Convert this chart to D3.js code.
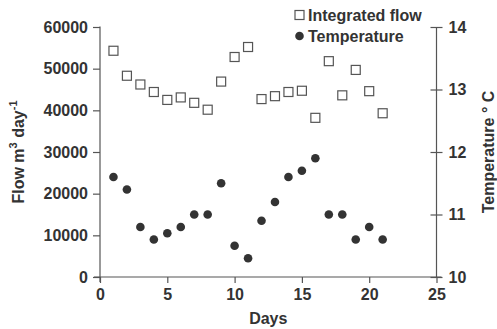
<!DOCTYPE html>
<html><head><meta charset="utf-8">
<script src="https://cdn.jsdelivr.net/npm/d3@7"></script>
<style>body{margin:0;background:#fff}svg{display:block}text{font-family:"Liberation Sans",Arial,sans-serif;fill:#333}</style>
</head><body>
<svg id="c" width="497" height="329"></svg>
<script>
const days = [1,2,3,4,5,6,7,8,9,10,11,12,13,14,15,16,17,18,19,20,21];
const flow = [54300,48300,46200,44400,42500,43100,41800,40150,46900,52800,55200,42700,43400,44400,44700,38200,51800,43600,49700,44600,39300];
const temperature = [11.6,11.4,10.8,10.6,10.7,10.8,11.0,11.0,11.5,10.5,10.3,10.9,11.2,11.6,11.7,11.9,11.0,11.0,10.6,10.8,10.6];
const xTicks = [0,5,10,15,20,25];
const flowTicks = [0,10000,20000,30000,40000,50000,60000];
const tempTicks = [10,11,12,13,14];

const svg = d3.select("#c");
const L = 100, R = 436.5, T = 27, B = 277;
const x = d3.scaleLinear().domain([0,25]).range([L,R]);
const yF = d3.scaleLinear().domain([0,60000]).range([B,T]);
const yT = d3.scaleLinear().domain([10,14]).range([B,T]);
const axisCol = "#555";

svg.append("line").attr("x1",L-6).attr("x2",R+5).attr("y1",B).attr("y2",B).attr("stroke",axisCol).attr("stroke-width",1.2);
svg.append("line").attr("x1",L).attr("x2",L).attr("y1",T-0.5).attr("y2",B+5).attr("stroke",axisCol).attr("stroke-width",1.2);
svg.append("line").attr("x1",R).attr("x2",R).attr("y1",T).attr("y2",B).attr("stroke",axisCol).attr("stroke-width",1.2);

const gx = svg.append("g").attr("transform",`translate(0,${B})`)
  .call(d3.axisBottom(x).tickValues(xTicks).tickFormat(d3.format("d")).tickSize(6).tickPadding(6));
const gl = svg.append("g").attr("transform",`translate(${L},0)`)
  .call(d3.axisLeft(yF).tickValues(flowTicks).tickFormat(d3.format("d")).tickSize(7).tickPadding(5));
const gr = svg.append("g").attr("transform",`translate(${R},0)`)
  .call(d3.axisRight(yT).tickValues(tempTicks).tickFormat(d3.format("d")).tickSize(6).tickPadding(6));
gr.selectAll(".tick line").attr("x1",-6);
[gx,gl,gr].forEach(g=>{
  g.select(".domain").remove();
  g.selectAll(".tick line").attr("stroke",axisCol).attr("stroke-width",1.2);
  g.selectAll(".tick text").style("font-family",'"Liberation Sans",Arial,sans-serif')
    .style("font-size","16px").style("font-weight","bold").style("fill","#333");
});

svg.append("text").attr("x",(L+R)/2).attr("y",324).attr("text-anchor","middle")
  .style("font-size","16px").style("font-weight","bold").text("Days");
const lt = svg.append("text").attr("transform",`translate(24,${(T+B)/2}) rotate(-90)`).attr("text-anchor","middle")
  .style("font-size","16px").style("font-weight","bold");
lt.append("tspan").text("Flow m");
lt.append("tspan").attr("dy",-7).style("font-size","11px").text("3");
lt.append("tspan").attr("dy",7).text(" day");
lt.append("tspan").attr("dy",-7).style("font-size","11px").text("-1");
svg.append("text").attr("transform",`translate(494,${(T+B)/2}) rotate(-90)`).attr("text-anchor","middle")
  .style("font-size","16px").style("font-weight","bold").text("Temperature ° C");

svg.append("g").selectAll("rect").data(days).join("rect")
  .attr("x",(d,i)=>x(d)-4.5).attr("y",(d,i)=>yF(flow[i])-4.5).attr("width",9).attr("height",9)
  .attr("fill","#fff").attr("stroke","#555").attr("stroke-width",1.2);
svg.append("g").selectAll("circle").data(days).join("circle")
  .attr("cx",d=>x(d)).attr("cy",(d,i)=>yT(temperature[i])).attr("r",4.3).attr("fill","#333");

svg.append("rect").attr("x",295).attr("y",10.5).attr("width",9).attr("height",9).attr("fill","#fff").attr("stroke","#555").attr("stroke-width",1.2);
svg.append("text").attr("x",308).attr("y",20.5).style("font-size","16px").style("font-weight","bold").text("Integrated flow");
svg.append("circle").attr("cx",299.5).attr("cy",36).attr("r",4.3).attr("fill","#333");
svg.append("text").attr("x",308).attr("y",41.5).style("font-size","16px").style("font-weight","bold").text("Temperature");
</script>
</body></html>
